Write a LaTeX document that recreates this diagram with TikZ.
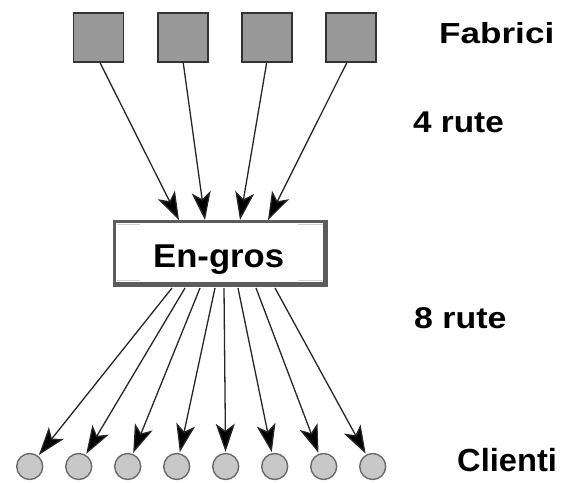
\documentclass[tikz,border=0pt]{standalone}
\usepackage{fontspec}
\setmainfont{Liberation Sans}
\usetikzlibrary{arrows.meta}
\definecolor{sqfill}{HTML}{999999}
\definecolor{sqline}{HTML}{333333}
\definecolor{cifill}{HTML}{C8C8C8}
\definecolor{ciline}{HTML}{6A6A6A}
\definecolor{frame}{HTML}{5C5C5C}
\definecolor{bevel}{HTML}{D0D0D0}
\definecolor{arr}{HTML}{262626}
\tikzset{
  fab/.style={draw=sqline, line width=1.6pt, fill=sqfill, minimum width=50pt, minimum height=49pt, inner sep=0pt},
  cli/.style={circle, draw=ciline, line width=1.4pt, fill=cifill, minimum size=26pt, inner sep=0pt},
  egbox/.style={fill=frame, minimum width=215pt, minimum height=67pt, inner sep=0pt},
  conn/.style={draw=arr, line width=1.3pt, -{Stealth[length=28pt,width=19pt,inset=7pt,fill=black]}},
  lbl/.style={anchor=base west, inner sep=0pt, font=\bfseries},
}
\begin{document}
\begin{tikzpicture}[x=1pt,y=-1pt]
\useasboundingbox (0,0) rectangle (564,482);
% factories
\node[fab] (f1) at (98.4,37.2) {};
\node[fab] (f2) at (183.2,37.2) {};
\node[fab] (f3) at (266.7,37.2) {};
\node[fab] (f4) at (350.9,37.2) {};
% wholesaler box
\node[egbox] (eg) at (220.5,253.5) {};
\fill[white] (116,222.5) rectangle (323,281.5);
\draw[bevel, line width=1pt] (116.5,224) -- (140,224) (298,224) -- (322.5,224)
  (116.5,280) -- (140,280) (298,280) -- (322.5,280);
\node[lbl, font=\bfseries\fontsize{33}{33}\selectfont] (egt) at (153,267) {\scalebox{1.05}[1]{En-gros}};
% clients
\foreach \i in {1,...,8}{
  \node[cli] (c\i) at ({29.7+49*(\i-1)},466.5) {};
}
% coordinates on box edges
\coordinate (t1) at (179,220);
\coordinate (t2) at (205,220);
\coordinate (t3) at (240,220);
\coordinate (t4) at (268,220);
\coordinate (b1) at (172,288);
\coordinate (b2) at (185,288);
\coordinate (b3) at (200,288);
\coordinate (b4) at (215,288);
\coordinate (b5) at (224,288);
\coordinate (b6) at (238,288);
\coordinate (b7) at (256,288);
\coordinate (b8) at (275,288);
% top connectors
\draw[conn] (f1.south) ++(1.5,0) -- (t1);
\draw[conn] (f2.south) -- (t2);
\draw[conn] (f3.south) -- (t3);
\draw[conn] (f4.south) ++(-4,0) -- (t4);
% bottom connectors
\foreach \i in {1,...,8}{
  \draw[conn, shorten >=1pt] (b\i) -- (c\i);
}
% labels
\node[lbl, font=\bfseries\fontsize{29}{29}\selectfont] (lf) at (439,43) {\scalebox{1.21}[1]{Fabrici}};
\node[lbl, font=\bfseries\fontsize{30}{30}\selectfont] (l4) at (413,132) {\scalebox{1.11}[1]{4 rute}};
\node[lbl, font=\bfseries\fontsize{30}{30}\selectfont] (l8) at (414,328) {\scalebox{1.13}[1]{8 rute}};
\node[lbl, font=\bfseries\fontsize{32}{32}\selectfont] (lc) at (457,471) {\scalebox{1.02}[1]{Clienti}};
\end{tikzpicture}
\end{document}
